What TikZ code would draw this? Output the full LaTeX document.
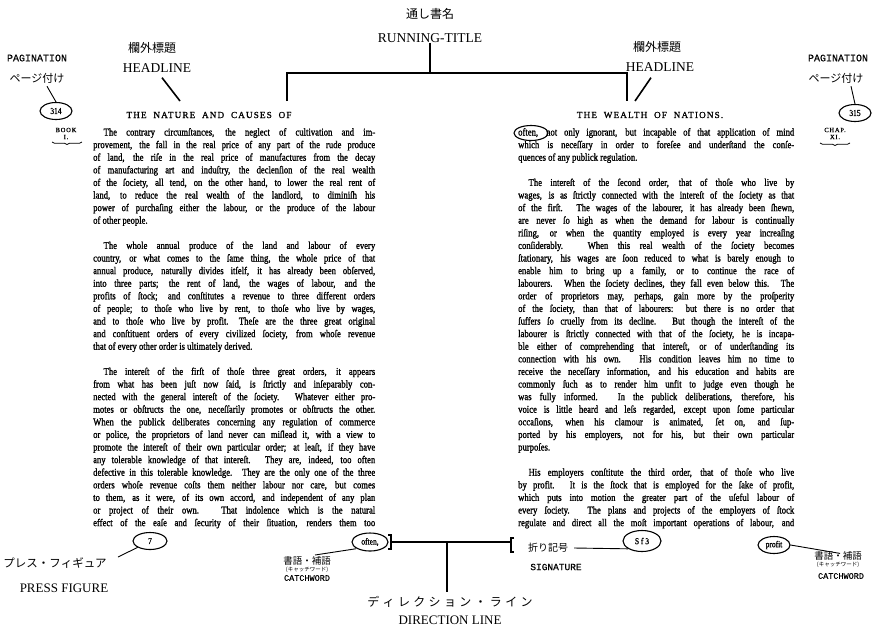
\documentclass[tikz,border=0pt]{standalone}
\usepackage{fontspec}
\setmainfont{Liberation Serif}
\newfontfamily\jpfont{Noto Sans CJK JP}
\newfontfamily\monofont[FakeBold=0.6]{Liberation Mono}
\newfontfamily\capsfont[LetterSpace=12,FakeBold=1]{Liberation Serif}
\newfontfamily\bodyfont[FakeStretch=0.83,FakeBold=1.3]{Liberation Serif}
\usetikzlibrary{shapes.geometric,decorations.pathreplacing}
\newcommand{\jl}[1]{\makebox[\linewidth][s]{#1}}
\newcommand{\bodyfmt}{\bodyfont\fontsize{10.4}{12.6}\selectfont}
\begin{document}
\begin{tikzpicture}[x=1pt,y=-1pt,
  jplab/.style={font=\jpfont\fontsize{12}{12}\selectfont, inner sep=0},
  jpsmall/.style={font=\jpfont\fontsize{9.5}{9.5}\selectfont, inner sep=0},
  jptiny/.style={font=\jpfont\fontsize{5.5}{5.5}\selectfont, inner sep=0},
  serlab/.style={font=\fontsize{13.5}{13.5}\selectfont, inner sep=0},
  monolab/.style={font=\monofont\fontsize{10}{10}\selectfont, inner sep=0},
  monosmall/.style={font=\monofont\fontsize{8.5}{8.5}\selectfont, inner sep=0},
  hdl/.style={font=\capsfont\fontsize{9.2}{9.2}\selectfont, inner sep=0},
  sig/.style={font=\capsfont\fontsize{6.5}{6.5}\selectfont, inner sep=0},
  ell/.style={ellipse, draw, line width=1.1pt, inner sep=0, font=\bodyfont\fontsize{9}{9}\selectfont},
  conn/.style={line width=1.6pt},
  thinconn/.style={line width=0.9pt},
  para/.style={anchor=base west, inner sep=0},
  bracefig/.style={decorate, decoration={brace, mirror, amplitude=2.5pt}, line width=0.8pt}
]
\useasboundingbox (0,0) rectangle (874,630);

% ---------------- running title ----------------
\node[jplab] (rtj) at (430,14) {通し書名};
\node[serlab] (rt) at (430,38) {RUNNING-TITLE};
\coordinate (rtbar) at (430,73);
\coordinate (rtl) at (287,73);
\coordinate (rtr) at (627,73);
\coordinate (rtlend) at (287,101);
\coordinate (rtrend) at (627,101);
\draw[conn] (rt.south) -- (rtbar);
\draw[conn] (rtlend) -- (rtl) -- (rtr) -- (rtrend);

% ---------------- headlines ----------------
\node[jplab] (lhj) at (152,48) {欄外標題};
\node[serlab] (lh) at (157,68) {HEADLINE};
\coordinate (lhend) at (180,101);
\draw[conn] ([xshift=5pt,yshift=-5pt]lh.south) -- (lhend);

\node[jplab] (rhj) at (657,47) {欄外標題};
\node[serlab] (rh) at (660,67) {HEADLINE};
\coordinate (rhend) at (635,101);
\draw[conn] ([xshift=-9pt,yshift=-6pt]rh.south) -- (rhend);

\node[hdl] (lhd) at (209,115) {THE\ \ NATURE\ \ AND\ \ CAUSES\ \ OF};
\node[hdl] (rhd) at (650,115) {THE\ \ WEALTH\ \ OF\ \ NATIONS.};

% ---------------- pagination ----------------
\node[monolab] (lpag) at (37,58) {PAGINATION};
\node[jplab, font=\jpfont\fontsize{11}{11}\selectfont] (lpagj) at (37,78) {ページ付け};
\node[ell, minimum width=32pt, minimum height=17pt] (lpc) at (56,111) {314};
\draw[thinconn] ([xshift=10pt,yshift=-3pt]lpagj.south) -- (lpc.north);

\node[monolab] (rpag) at (838,58) {PAGINATION};
\node[jplab, font=\jpfont\fontsize{11}{11}\selectfont] (rpagj) at (836,78) {ページ付け};
\node[ell, minimum width=32pt, minimum height=17pt] (rpc) at (855,113) {315};
\draw[thinconn] ([xshift=15pt,yshift=-3pt]rpagj.south) -- (rpc.north);

% ---------------- signatures of book / chapter ----------------
\node[sig] (book) at (66,130) {BOOK};
\node[sig] (booki) at (66,137) {I.};
\coordinate (bkL) at (52,142);
\coordinate (bkR) at (82,142);
\draw[bracefig] (bkL) -- (bkR);

\node[sig] (chap) at (835,130) {CHAP.};
\node[sig] (chapxi) at (835,137) {XI.};
\coordinate (chL) at (820,143);
\coordinate (chR) at (850,143);
\draw[bracefig] (chL) -- (chR);

% ---------------- left page text ----------------
\node[para] (lp1) at (93,135.5) {\parbox[t]{282pt}{\bodyfmt
\jl{\hspace{1em}The contrary circumſtances, the neglect of cultivation and im-}\\
\jl{provement, the fall in the real price of any part of the rude produce}\\
\jl{of land, the riſe in the real price of manufactures from the decay}\\
\jl{of manufacturing art and induſtry, the declenſion of the real wealth}\\
\jl{of the ſociety, all tend, on the other hand, to lower the real rent of}\\
\jl{land, to reduce the real wealth of the landlord, to diminiſh his}\\
\jl{power of purchaſing either the labour, or the produce of the labour}\\
of other people.}};

\node[para] (lp2) at (93,248.9) {\parbox[t]{282pt}{\bodyfmt
\jl{\hspace{1em}The whole annual produce of the land and labour of every}\\
\jl{country, or what comes to the ſame thing, the whole price of that}\\
\jl{annual produce, naturally divides itſelf, it has already been obſerved,}\\
\jl{into three parts; the rent of land, the wages of labour, and the}\\
\jl{profits of ſtock; and conſtitutes a revenue to three different orders}\\
\jl{of people; to thoſe who live by rent, to thoſe who live by wages,}\\
\jl{and to thoſe who live by profit.\quad Theſe are the three great original}\\
\jl{and conſtituent orders of every civilized ſociety, from whoſe revenue}\\
that of every other order is ultimately derived.}};

\node[para] (lp3) at (93,374.9) {\parbox[t]{282pt}{\bodyfmt
\jl{\hspace{1em}The intereſt of the firſt of thoſe three great orders, it appears}\\
\jl{from what has been juſt now ſaid, is ſtrictly and inſeparably con-}\\
\jl{nected with the general intereſt of the ſociety. Whatever either pro-}\\
\jl{motes or obſtructs the one, neceſſarily promotes or obſtructs the other.}\\
\jl{When the publick deliberates concerning any regulation of commerce}\\
\jl{or police, the proprietors of land never can miſlead it, with a view to}\\
\jl{promote the intereſt of their own particular order; at leaſt, if they have}\\
\jl{any tolerable knowledge of that intereſt. They are, indeed, too often}\\
\jl{defective in this tolerable knowledge. They are the only one of the three}\\
\jl{orders whoſe revenue coſts them neither labour nor care, but comes}\\
\jl{to them, as it were, of its own accord, and independent of any plan}\\
\jl{or project of their own. That indolence which is the natural}\\
\jl{effect of the eaſe and ſecurity of their ſituation, renders them too}}};

% ---------------- right page text ----------------
\node[para] (rp1) at (518,135.5) {\parbox[t]{276pt}{\bodyfmt
\jl{often, not only ignorant, but incapable of that application of mind}\\
\jl{which is neceſſary in order to foreſee and underſtand the conſe-}\\
quences of any publick regulation.}};
\node[ell, minimum width=34pt, minimum height=15pt] (oc) at (531,133) {};

\node[para] (rp2) at (518,185.9) {\parbox[t]{276pt}{\bodyfmt
\jl{\hspace{1em}The intereſt of the ſecond order, that of thoſe who live by}\\
\jl{wages, is as ſtrictly connected with the intereſt of the ſociety as that}\\
\jl{of the firſt. The wages of the labourer, it has already been ſhewn,}\\
\jl{are never ſo high as when the demand for labour is continually}\\
\jl{riſing, or when the quantity employed is every year increaſing}\\
\jl{conſiderably. When this real wealth of the ſociety becomes}\\
\jl{ſtationary, his wages are ſoon reduced to what is barely enough to}\\
\jl{enable him to bring up a family, or to continue the race of}\\
\jl{labourers. When the ſociety declines, they fall even below this. The}\\
\jl{order of proprietors may, perhaps, gain more by the proſperity}\\
\jl{of the ſociety, than that of labourers: but there is no order that}\\
\jl{ſuffers ſo cruelly from its decline. But though the intereſt of the}\\
\jl{labourer is ſtrictly connected with that of the ſociety, he is incapa-}\\
\jl{ble either of comprehending that intereſt, or of underſtanding its}\\
\jl{connection with his own. His condition leaves him no time to}\\
\jl{receive the neceſſary information, and his education and habits are}\\
\jl{commonly ſuch as to render him unfit to judge even though he}\\
\jl{was fully informed. In the publick deliberations, therefore, his}\\
\jl{voice is little heard and leſs regarded, except upon ſome particular}\\
\jl{occaſions, when his clamour is animated, ſet on, and ſup-}\\
\jl{ported by his employers, not for his, but their own particular}\\
purpoſes.}};

\node[para] (rp3) at (518,475.7) {\parbox[t]{276pt}{\bodyfmt
\jl{\hspace{1em}His employers conſtitute the third order, that of thoſe who live}\\
\jl{by profit. It is the ſtock that is employed for the ſake of profit,}\\
\jl{which puts into motion the greater part of the uſeful labour of}\\
\jl{every ſociety. The plans and projects of the employers of ſtock}\\
\jl{regulate and direct all the moſt important operations of labour, and}}};

% ---------------- press figure ----------------
\node[ell, minimum width=34pt, minimum height=17pt] (pfc) at (150,541) {7};
\node[jplab, font=\jpfont\fontsize{11.5}{11.5}\selectfont] (pfj) at (55,563) {プレス・フィギュア};
\node[serlab, font=\fontsize{13}{13}\selectfont] (pf) at (64,588) {PRESS FIGURE};
\coordinate (pfend) at (118,557);
\draw[thinconn] (pfc.south west) -- (pfend);

% ---------------- catchword (left) ----------------
\node[ell, minimum width=36pt, minimum height=18pt] (cwc) at (370,542) {often,};
\node[jpsmall] (cwj) at (307,561) {書語・補語};
\node[jptiny] (cwk) at (307,570) {(キャッチワード)};
\node[monosmall] (cw) at (307,578) {CATCHWORD};
\coordinate (cwend) at (315,555);
\draw[thinconn] ([xshift=-1pt]cwc.south west) -- (cwend);

% ---------------- direction line ----------------
\coordinate (dlL) at (391,542);
\coordinate (dlR) at (511,542);
\coordinate (dlM) at (447,542);
\draw[conn] (dlL) -- (dlR);
\draw[line width=1.2pt] (388,535) -- (391,535) -- (391,549) -- (388,549);
\draw[line width=1.2pt] (514,538) -- (511,538) -- (511,552) -- (514,552);
\node[jplab, font=\jpfont\fontsize{12}{12}\selectfont] (dlj) at (450,602) {デ\;ィ\;レ\;ク\;シ\;ョ\;ン\;・\;ラ\;イ\;ン};
\node[serlab, font=\fontsize{13}{13}\selectfont] (dl) at (450,620) {DIRECTION LINE};
\draw[conn] (dlM) -- ([yshift=4pt]dlj.north -| dlM);

% ---------------- signature ----------------
\node[ell, minimum width=38pt, minimum height=21pt] (sgc) at (642,541) {S f 3};
\node[jpsmall, font=\jpfont\fontsize{10}{10}\selectfont] (sgj) at (548,548) {折り記号};
\node[monosmall, font=\monofont\fontsize{9.5}{9.5}\selectfont] (sg) at (556,567) {SIGNATURE};
\draw[thinconn] (sgc.south west) -- ([xshift=6pt]sgj.east);

% ---------------- catchword (right) ----------------
\node[ell, minimum width=32pt, minimum height=17pt] (prc) at (774,545) {profit};
\node[jpsmall] (pcj) at (838,556) {書語・補語};
\node[jptiny] (pck) at (838,565) {(キャッチワード)};
\node[monosmall] (pc) at (841,576) {CATCHWORD};
\draw[thinconn] (prc.east) -- ([xshift=2pt,yshift=-2pt]pcj.north);
\end{tikzpicture}
\end{document}
